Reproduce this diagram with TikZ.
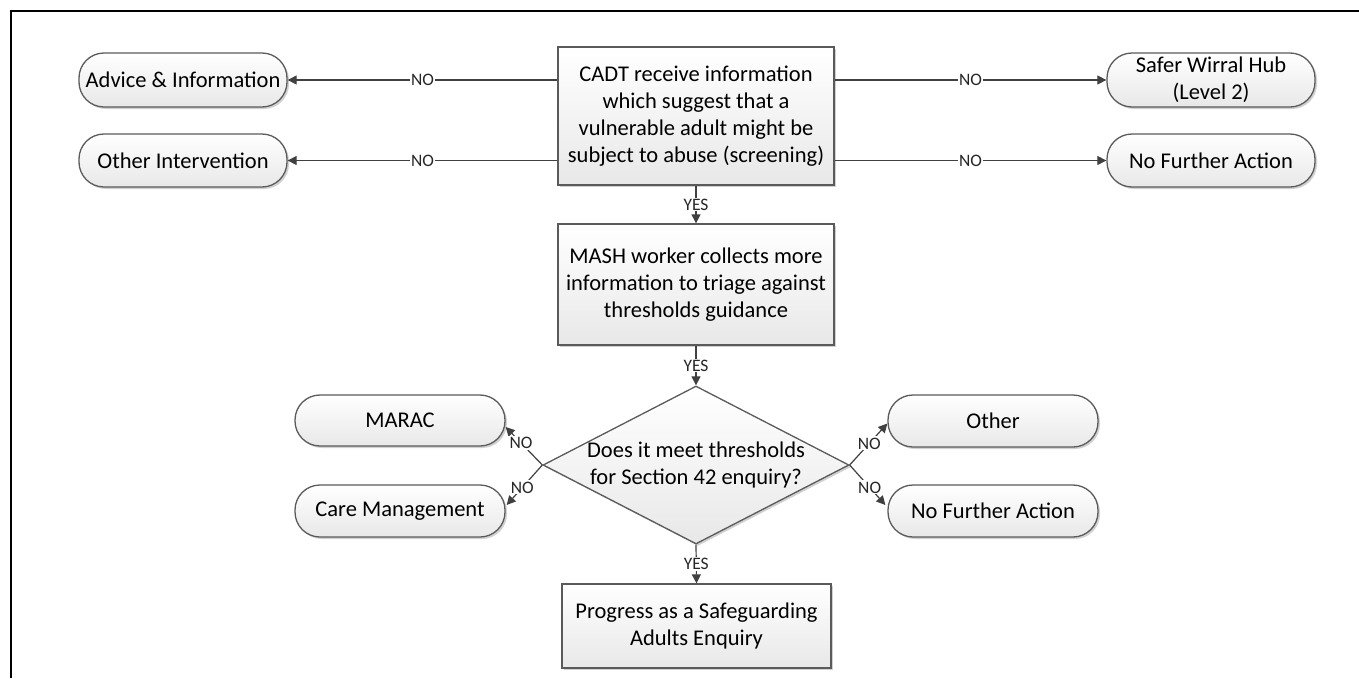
\documentclass[tikz,border=0pt]{standalone}
\usepackage{fontspec}
\setmainfont{Carlito}
\usetikzlibrary{arrows.meta,shapes.geometric,shadows,calc}
\definecolor{boxline}{HTML}{5A5A5A}
\definecolor{conncol}{HTML}{404040}
\begin{document}
\begin{tikzpicture}[x=1pt,y=-1pt,
  base/.style={draw=boxline, line width=1.3pt, top color=white, bottom color=black!9,
    drop shadow={shadow xshift=2pt,shadow yshift=-2pt,fill=black,opacity=0.18},
    font=\fontsize{22.5}{27}\selectfont, align=center, inner sep=0pt, text=black},
  procbox/.style={base, rectangle, minimum width=276pt},
  termbox/.style={base, rectangle, rounded corners=25pt, minimum width=208pt},
  decbox/.style={base, diamond, minimum width=306pt, minimum height=158pt},
  plain/.style={font=\fontsize{22.5}{27}\selectfont, align=center, inner sep=0pt, text=black},
  conn/.style={draw=conncol, line width=1.2pt, -{Triangle[length=9pt,width=9pt]}},
  lbl/.style={fill=white, inner sep=1.2pt, font=\fontsize{17.5}{20}\selectfont, text=black!85}
]
\useasboundingbox (0,0) rectangle (1359,678);
\draw[line width=2.8pt, black] (11,678) -- (11,11) -- (1359,11);

% main column
\node[procbox, minimum height=138pt] (cadt) at (696,116)
  {CADT receive information\\which suggest that a\\vulnerable adult might be\\subject to abuse (screening)};
\node[procbox, minimum height=121pt] (mash) at (696,284.5)
  {MASH worker collects more\\information to triage against\\thresholds guidance};
\node[decbox] (dec) at (696,465) {};
\node[plain] (dectext) at (696,465) {Does it meet thresholds\\for Section 42 enquiry?};
\node[procbox, minimum width=269pt, minimum height=84pt] (prog) at (696.5,626)
  {Progress as a Safeguarding\\Adults Enquiry};

% top terminals
\node[termbox, minimum height=54pt] (adv) at (183,80) {Advice \& Information};
\node[termbox, minimum height=53pt] (othint) at (183,160.5) {Other Intervention};
\node[termbox, minimum height=54pt] (safer) at (1211,80) {Safer Wirral Hub\\(Level 2)};
\node[termbox, minimum height=53pt] (nfa1) at (1211,160.5) {No Further Action};

% lower terminals
\node[termbox, minimum width=210pt, minimum height=51pt] (marac) at (400,420.5) {MARAC};
\node[termbox, minimum width=210pt, minimum height=52pt] (care) at (400,511) {Care Management};
\node[termbox, minimum width=210pt, minimum height=52pt] (other) at (993,421) {Other};
\node[termbox, minimum width=210pt, minimum height=52pt] (nfa2) at (993,511) {No Further Action};

% horizontal connectors
\draw[conn] (cadt.west |- adv.east) -- node[lbl]{NO} (adv.east);
\draw[conn] (cadt.west |- othint.east) -- node[lbl]{NO} (othint.east);
\draw[conn] (cadt.east |- safer.west) -- node[lbl]{NO} (safer.west);
\draw[conn] (cadt.east |- nfa1.west) -- node[lbl]{NO} (nfa1.west);

% vertical connectors
\draw[conn] (cadt.south) -- node[lbl]{YES} (mash.north);
\draw[conn] (mash.south) -- node[lbl]{YES} (dec.north);
\draw[conn] (dec.south) -- node[lbl]{YES} (prog.north);

% diagonal connectors
\coordinate (maracin) at ($(marac.east)+(0,6.5)$);
\coordinate (carein) at ($(care.east)+(1,-6)$);
\coordinate (otherin) at ($(other.west)+(0,2.5)$);
\coordinate (nfa2in) at ($(nfa2.west)+(-2,-6)$);
\draw[conn] (dec.west) -- node[lbl, pos=0.58]{NO} (maracin);
\draw[conn] (dec.west) -- node[lbl, pos=0.56]{NO} (carein);
\draw[conn] (dec.east) -- node[lbl, pos=0.52]{NO} (otherin);
\draw[conn] (dec.east) -- node[lbl, pos=0.56]{NO} (nfa2in);
\end{tikzpicture}
\end{document}
